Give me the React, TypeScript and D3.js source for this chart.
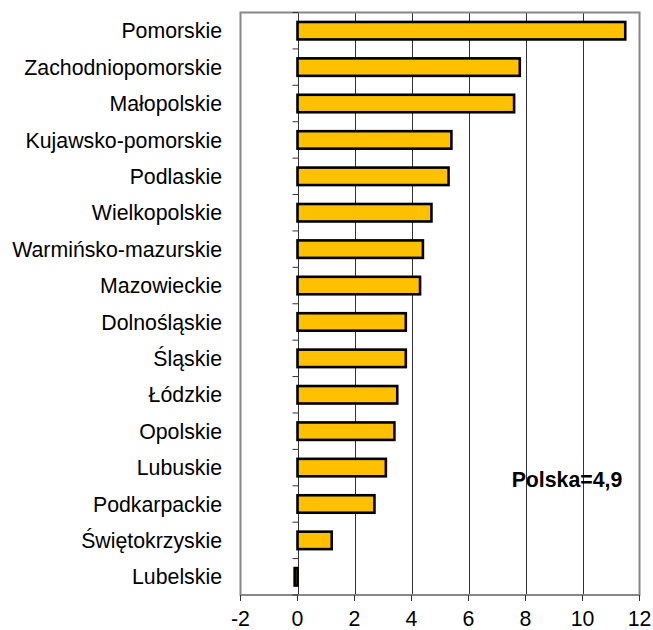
import React, { useRef, useEffect } from 'react';
import * as d3 from 'd3';

const regions = [
  'Pomorskie', 'Zachodniopomorskie', 'Małopolskie', 'Kujawsko-pomorskie', 'Podlaskie',
  'Wielkopolskie', 'Warmińsko-mazurskie', 'Mazowieckie', 'Dolnośląskie', 'Śląskie',
  'Łódzkie', 'Opolskie', 'Lubuskie', 'Podkarpackie', 'Świętokrzyskie', 'Lubelskie',
];
const values = [11.5, 7.8, 7.6, 5.4, 5.3, 4.7, 4.4, 4.3, 3.8, 3.8, 3.5, 3.4, 3.1, 2.7, 1.2, -0.1];
const xTicks = [-2, 0, 2, 4, 6, 8, 10, 12];
const note = 'Polska=4,9';

const App = () => {
  const ref = useRef<SVGSVGElement | null>(null);

  useEffect(() => {
    const width = 653;
    const height = 630;
    const left = 240.5, right = 639.5, top = 12.5, bottom = 595;

    const svg = d3.select(ref.current);
    svg.selectAll('*').remove();

    const x = d3.scaleLinear().domain([-2, 12]).range([left, right]);
    const y = d3.scaleBand<string>().domain(regions).range([top, bottom]).paddingInner(0.52).paddingOuter(0.26);
    const band = d3.scaleBand<string>().domain(regions).range([top, bottom]);

    const font = 'Arial, "Liberation Sans", sans-serif';
    const fs = 21.3;

    // gridlines
    svg.append('g')
      .selectAll('line')
      .data(xTicks.slice(1, -1))
      .enter().append('line')
      .attr('x1', d => Math.round(x(d)) + 0.5)
      .attr('x2', d => Math.round(x(d)) + 0.5)
      .attr('y1', top)
      .attr('y2', bottom)
      .attr('stroke', '#333')
      .attr('stroke-width', 1);

    // plot border
    svg.append('rect')
      .attr('x', left).attr('y', top)
      .attr('width', right - left).attr('height', bottom - top)
      .attr('fill', 'none')
      .attr('stroke', '#888')
      .attr('stroke-width', 2);

    // y ticks at category boundaries
    const zx = Math.round(x(0)) + 0.5;
    svg.append('g')
      .selectAll('line')
      .data(regions.concat(['__end']))
      .enter().append('line')
      .attr('x1', zx - 6)
      .attr('x2', zx)
      .attr('y1', (d, i) => top + i * band.step())
      .attr('y2', (d, i) => top + i * band.step())
      .attr('stroke', '#333');

    // x ticks
    svg.append('g')
      .selectAll('line')
      .data(xTicks)
      .enter().append('line')
      .attr('x1', d => x(d))
      .attr('x2', d => x(d))
      .attr('y1', bottom)
      .attr('y2', bottom + 6)
      .attr('stroke', '#333');

    // bars
    svg.append('g')
      .selectAll('rect')
      .data(values)
      .enter().append('rect')
      .attr('x', d => x(Math.min(0, d)))
      .attr('y', (d, i) => y(regions[i])!)
      .attr('width', d => Math.abs(x(d) - x(0)))
      .attr('height', y.bandwidth())
      .attr('fill', '#FFC000')
      .attr('stroke', '#000')
      .attr('stroke-width', 2.6);

    // category labels
    svg.append('g')
      .selectAll('text')
      .data(regions)
      .enter().append('text')
      .attr('x', 222)
      .attr('y', d => band(d)! + band.bandwidth() / 2)
      .attr('dy', '0.36em')
      .attr('text-anchor', 'end')
      .attr('font-family', font)
      .attr('font-size', fs)
      .attr('fill', '#000')
      .text(d => d);

    // x tick labels
    svg.append('g')
      .selectAll('text')
      .data(xTicks)
      .enter().append('text')
      .attr('x', d => x(d))
      .attr('y', 626)
      .attr('text-anchor', 'middle')
      .attr('font-family', font)
      .attr('font-size', fs)
      .attr('fill', '#000')
      .text(d => String(d));

    svg.append('text')
      .attr('x', 567)
      .attr('y', 487)
      .attr('text-anchor', 'middle')
      .attr('font-family', font)
      .attr('font-size', fs)
      .attr('font-weight', 'bold')
      .text(note);

    svg.attr('width', width).attr('height', height);
  }, []);

  return (
    <svg ref={ref} width={653} height={630}
      style={{ position: 'absolute', left: 0, top: 0, background: '#fff' }} />
  );
};

export default App;
